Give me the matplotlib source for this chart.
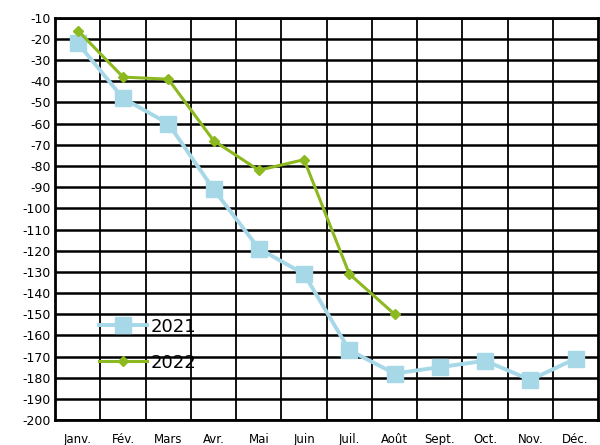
import numpy as np
import matplotlib.pyplot as plt

months = ['Janv.', 'Fév.', 'Mars', 'Avr.', 'Mai', 'Juin', 'Juil.', 'Août',
          'Sept.', 'Oct.', 'Nov.', 'Déc.']
v2021 = [-22, -48, -60, -91, -119, -131, -167, -178, -175, -172, -181, -171]
v2022 = [-16, -38, -39, -68, -82, -77, -131, -150]

yticks = np.arange(-200, 0, 10)

fig = plt.figure(figsize=(6, 4.45), dpi=100)
ax = fig.add_axes([0.092, 0.056, 0.905, 0.904])

x = np.arange(len(months))
ax.plot(x, v2021, '-s', color='#a6d8e8', lw=2.8, ms=11, label='2021')
ax.plot(x[:len(v2022)], v2022, '-D', color='#8cb820', lw=2.2, ms=5, label='2022')

ax.set_xlim(-0.5, 11.5)
ax.set_ylim(-200, -10)
ax.set_yticks(yticks)
ax.set_yticklabels([str(v) for v in yticks], fontsize=9)
ax.set_xticks(x)
ax.set_xticklabels(months, fontsize=8.5)
ax.tick_params(axis='y', length=0, pad=3)
ax.tick_params(axis='x', length=0, pad=9)

# grid: black horizontal at every 10, verticals between months
for v in yticks:
    ax.axhline(v, color='black', lw=1.8, zorder=0)
for b in np.arange(0.5, 11.5, 1):
    ax.axvline(b, color='black', lw=1.3, zorder=0)
for s in ax.spines.values():
    s.set_linewidth(2)

ax.legend(loc='lower left', bbox_to_anchor=(0.05, 0.08), frameon=False,
          fontsize=13, handlelength=2.7, handletextpad=0.2, labelspacing=1.0)

fig.savefig('out.png')
